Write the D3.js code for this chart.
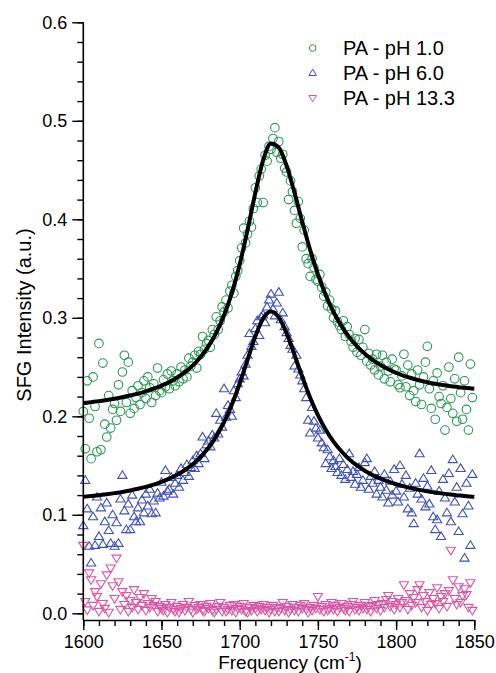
<!DOCTYPE html>
<html><head><meta charset="utf-8">
<script src="https://cdn.jsdelivr.net/npm/d3@7"></script>
<style>body{margin:0;background:#fff}svg text{font-family:"Liberation Sans",Arial,sans-serif;fill:#000}</style>
</head><body><svg id="c" width="496" height="673"></svg>
<script>
// measurement grid (cm-1)
const freqStart = 1600, freqStep = 1.25;
const seriesNames = ["PA - pH 1.0", "PA - pH 6.0", "PA - pH 13.3"];
const ph1 = [
0.205,0.167,0.236,0.198, 0.157,0.240,0.210,0.164, 0.274,0.166,0.254,0.192, 0.179,0.221,0.188,0.207,
0.213,0.196,0.232,0.205, 0.245,0.262,0.214,0.255, 0.203,0.226,0.208,0.219, 0.231,0.212,0.224,0.236,
0.218,0.240,0.229,0.214, 0.233,0.221,0.249,0.226, 0.224,0.237,0.230,0.243, 0.228,0.246,0.236,0.231,
0.243,0.235,0.250,0.238, 0.247,0.240,0.259,0.251, 0.255,0.262,0.249,0.266, 0.263,0.281,0.268,0.274,
0.277,0.270,0.288,0.283, 0.301,0.288,0.297,0.311, 0.306,0.318,0.310,0.327, 0.333,0.325,0.342,0.348,
0.358,0.371,0.391,0.376, 0.385,0.398,0.392,0.411, 0.432,0.417,0.444,0.451, 0.417,0.465,0.459,0.474,
0.471,0.482,0.493,0.468, 0.479,0.462,0.466,0.452, 0.448,0.420,0.439,0.428, 0.409,0.396,0.418,0.401,
0.372,0.389,0.360,0.355, 0.342,0.360,0.351,0.339, 0.337,0.344,0.331,0.322, 0.326,0.312,0.318,0.309,
0.300,0.307,0.296,0.292, 0.288,0.297,0.281,0.291, 0.283,0.276,0.270,0.279, 0.265,0.278,0.262,0.270,
0.288,0.256,0.264,0.252, 0.258,0.247,0.263,0.242, 0.251,0.262,0.238,0.255, 0.246,0.235,0.258,0.248,
0.247,0.232,0.229,0.241, 0.263,0.230,0.252,0.221, 0.243,0.226,0.215,0.247, 0.232,0.212,0.240,0.255,
0.271,0.228,0.208,0.236, 0.197,0.244,0.220,0.213, 0.231,0.186,0.209,0.250, 0.218,0.203,0.238,0.195,
0.260,0.224,0.197,0.236, 0.207,0.186,0.253,0.219];
const ph6 = [
0.089,0.135,0.106,0.068, 0.051,0.098,0.069,0.118, 0.078,0.107,0.070,0.093, 0.112,0.084,0.071,0.100,
0.068,0.092,0.071,0.116, 0.140,0.104,0.085,0.111, 0.085,0.120,0.098,0.093, 0.107,0.093,0.115,0.102,
0.121,0.109,0.126,0.101, 0.114,0.102,0.122,0.117, 0.133,0.119,0.145,0.124, 0.126,0.138,0.121,0.132,
0.140,0.128,0.147,0.135, 0.143,0.151,0.139,0.148, 0.155,0.147,0.160,0.152, 0.162,0.179,0.157,0.171,
0.175,0.169,0.181,0.178, 0.203,0.182,0.196,0.189, 0.228,0.199,0.211,0.207, 0.200,0.226,0.219,0.233,
0.238,0.245,0.241,0.253, 0.262,0.284,0.271,0.276, 0.289,0.297,0.282,0.301, 0.303,0.295,0.311,0.318,
0.324,0.309,0.302,0.315, 0.326,0.298,0.305,0.291, 0.285,0.279,0.272,0.268, 0.251,0.262,0.248,0.242,
0.236,0.228,0.219,0.196, 0.183,0.209,0.195,0.188, 0.178,0.186,0.173,0.168, 0.152,0.166,0.159,0.147,
0.155,0.149,0.143,0.157, 0.140,0.151,0.136,0.146, 0.162,0.138,0.144,0.131, 0.141,0.148,0.128,0.135,
0.153,0.157,0.126,0.139, 0.132,0.144,0.121,0.135, 0.128,0.118,0.141,0.125, 0.112,0.134,0.120,0.146,
0.124,0.113,0.150,0.131, 0.118,0.140,0.106,0.127, 0.102,0.091,0.132,0.121, 0.162,0.116,0.137,0.108,
0.129,0.111,0.145,0.098, 0.085,0.095,0.124,0.078, 0.136,0.117,0.102,0.142, 0.093,0.156,0.113,0.128,
0.083,0.147,0.101,0.056, 0.132,0.109,0.069,0.141];
const ph133 = [
0.069,0.012,0.0035,0.041, 0.034,0.008,0.022,0.017, 0.002,0.030,0.010,0.005, 0.039,0.001,0.046,0.028,
0.015,0.056,0.032,0.004, 0.022,0.009,0.018,0.002, 0.013,0.006,0.024,0.011, 0.004,0.016,0.008,0.020,
0.003,0.010,0.006,0.015, 0.008,0.012,0.002,0.007, 0.005,0.003,0.009,0.001, 0.006,0.011,0.004,0.002,
0.007,0.001,0.005,0.009, 0.003,0.006,0.012,0.004, 0.001,0.008,0.004,0.006, 0.009,0.003,0.002,0.007,
0.005,0.010,0.003,0.001, 0.004,0.007,0.011,0.002, 0.006,0.002,0.004,0.008, 0.003,0.009,0.001,0.005,
0.007,0.004,0.010,0.002, 0.001,0.006,0.003,0.008, 0.005,0.002,0.007,0.004, 0.009,0.003,0.006,0.001,
0.004,0.008,0.002,0.006, 0.002,0.005,0.011,0.003, 0.007,0.001,0.004,0.009, 0.003,0.006,0.002,0.008,
0.005,0.010,0.004,0.001, 0.006,0.003,0.008,0.005, 0.017,0.004,0.007,0.002, 0.009,0.003,0.005,0.011,
0.004,0.008,0.002,0.006, 0.010,0.005,0.003,0.007, 0.002,0.009,0.012,0.004, 0.006,0.003,0.008,0.005,
0.011,0.004,0.007,0.002, 0.008,0.013,0.005,0.009, 0.003,0.010,0.006,0.014, 0.018,0.007,0.012,0.004,
0.009,0.015,0.006,0.011, 0.029,0.013,0.004,0.020, 0.008,0.016,0.011,0.024, 0.029,0.006,0.018,0.012,
0.003,0.021,0.009,0.015, 0.010,0.026,0.005,0.017, 0.012,0.020,0.007,0.023, 0.064,0.034,0.015,0.009,
0.027,0.011,0.018,0.025, 0.019,0.006,0.031,0.003];
// Lorentzian fit curves read at 5 cm-1 spacing
const fitStart = 1600, fitStep = 5;
const fitPh1 = [0.2134,0.2144,0.2154,0.2166,0.2179,0.2194,0.2211,0.2230,0.2253,0.2280,0.2311,0.2348,0.2394,
0.2449,0.2517,0.2602,0.2710,0.2847,0.3025,0.3253,0.3542,0.3890,0.4269,0.4601,0.4770,
0.4727,0.4543,0.4273,0.3975,0.3691,0.3442,0.3232,0.3059,0.2918,0.2804,0.2711,0.2635,0.2572,
0.2520,0.2478,0.2442,0.2411,0.2386,0.2364,0.2346,0.2330,0.2317,0.2305,0.2296,0.2287,0.2280];
const fitPh6 = [0.1183,0.1191,0.1199,0.1209,0.1220,0.1232,0.1247,0.1264,0.1283,0.1306,0.1334,0.1367,0.1406,
0.1455,0.1514,0.1588,0.1680,0.1796,0.1940,0.2119,0.2333,0.2573,0.2811,0.2995,0.3065,
0.3004,0.2842,0.2626,0.2400,0.2191,0.2012,0.1864,0.1743,0.1645,0.1565,0.1501,0.1447,0.1403,
0.1367,0.1336,0.1310,0.1288,0.1269,0.1253,0.1238,0.1226,0.1215,0.1205,0.1197,0.1189,0.1182];
const xTicks = [1600,1650,1700,1750,1800,1850];
const yTicks = [0.0,0.1,0.2,0.3,0.4,0.5,0.6];
const colors = ["#2a9857", "#3f52bb", "#dd55a3"];

const svg = d3.select("#c");
const x = d3.scaleLinear().domain([1600,1850]).range([83.3,474.3]);
const y = d3.scaleLinear().domain([-0.0068,0.6]).range([620,22.3]);

const up = "M0,-4.6L4.6,3L-4.6,3Z";
const down = "M0,4.6L4.6,-3L-4.6,-3Z";

const pts = arr => arr.map((v,i)=>({f: freqStart + i*freqStep, v}));

// data markers
svg.append("g").selectAll("circle").data(pts(ph1)).join("circle")
  .attr("cx", d=>x(d.f)).attr("cy", d=>y(d.v)).attr("r",4.3)
  .attr("fill","none").attr("stroke",colors[0]).attr("stroke-width",1.1);
svg.append("g").selectAll("path").data(pts(ph6)).join("path")
  .attr("d", up).attr("transform", d=>`translate(${x(d.f)},${y(d.v)})`)
  .attr("fill","none").attr("stroke",colors[1]).attr("stroke-width",1.1);
svg.append("g").selectAll("path").data(pts(ph133)).join("path")
  .attr("d", down).attr("transform", d=>`translate(${x(d.f)},${y(d.v)})`)
  .attr("fill","none").attr("stroke",colors[2]).attr("stroke-width",1.1);

// fits
const line = d3.line().x((d,i)=>x(fitStart + i*fitStep)).y(d=>y(d)).curve(d3.curveMonotoneX);
[fitPh1, fitPh6].forEach(f => svg.append("path").attr("d", line(f))
  .attr("fill","none").attr("stroke","#000").attr("stroke-width",4).attr("stroke-linejoin","round"));

// axes
const yMinor = d3.range(0, 0.6001, 0.02);
const xMinor = d3.range(1600, 1850.1, 10);
const gy = svg.append("g").attr("transform","translate(83.3,0)");
gy.call(d3.axisLeft(y).tickValues(yMinor).tickSize(6).tickSizeOuter(0).tickFormat(""));
gy.call(g=>g.select(".domain").remove());
const gy2 = svg.append("g").attr("transform","translate(83.3,0)");
gy2.call(d3.axisLeft(y).tickValues(yTicks).tickSize(11).tickSizeOuter(0).tickPadding(5).tickFormat(d3.format(".1f")));
gy2.select(".domain").attr("d", `M0,${y.range()[0]}V${y.range()[1]}`).attr("stroke-width",1.6);
const gx = svg.append("g").attr("transform","translate(0,620)");
gx.call(d3.axisBottom(x).tickValues(xMinor).tickSize(6).tickSizeOuter(0).tickFormat(""));
gx.call(g=>g.select(".domain").remove());
const gx2 = svg.append("g").attr("transform","translate(0,620)");
gx2.call(d3.axisBottom(x).tickValues(xTicks).tickSize(10).tickSizeOuter(0).tickPadding(5).tickFormat(d3.format("d")));
gx2.select(".domain").attr("stroke-width",1.6);
svg.selectAll(".tick line").attr("stroke","#000").attr("stroke-width",1.4);
svg.selectAll(".tick text").attr("font-size",18).attr("font-family","Liberation Sans, Arial, sans-serif");

// axis titles
svg.append("text").attr("transform","translate(30.5,315) rotate(-90)").attr("text-anchor","middle")
  .attr("font-size",20).text("SFG Intensity (a.u.)");
const xt = svg.append("text").attr("x",290).attr("y",669).attr("text-anchor","middle").attr("font-size",19);
xt.append("tspan").text("Frequency (cm");
xt.append("tspan").attr("dy",-8).attr("font-size",12).text("-1");
xt.append("tspan").attr("dy",8).text(")");

// legend
const legY = [48, 73, 98];
const lg = svg.append("g");
lg.append("circle").attr("cx",312.7).attr("cy",legY[0]).attr("r",3.3).attr("fill","none").attr("stroke",colors[0]);
lg.append("path").attr("d","M0,-3.8L3.8,2.5L-3.8,2.5Z").attr("transform",`translate(312.7,${legY[1]})`).attr("fill","none").attr("stroke",colors[1]);
lg.append("path").attr("d","M0,3.8L3.8,-2.5L-3.8,-2.5Z").attr("transform",`translate(312.7,${legY[2]})`).attr("fill","none").attr("stroke",colors[2]);
seriesNames.forEach((s,i)=>lg.append("text").attr("x",343).attr("y",legY[i]+7).attr("font-size",20).text(s));
</script></body></html>
